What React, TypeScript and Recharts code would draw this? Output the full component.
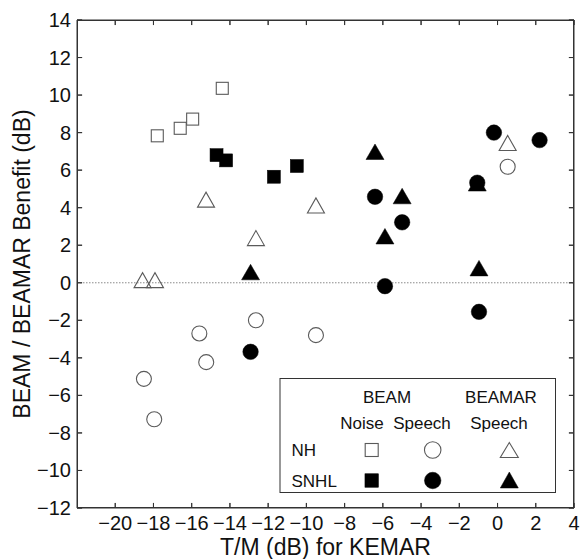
import React from 'react';
import { ScatterChart, Scatter, XAxis, YAxis, ReferenceLine, Customized, Label } from 'recharts';

const xTicks = [-20, -18, -16, -14, -12, -10, -8, -6, -4, -2, 0, 2, 4];
const yTicks = [-12, -10, -8, -6, -4, -2, 0, 2, 4, 6, 8, 10, 12, 14];
const X_MIN = -22, X_MAX = 4, Y_MIN = -12, Y_MAX = 14;

// BEAM Noise
const nhNoiseX = [-17.8, -16.6, -15.95, -14.4];
const nhNoiseY = [7.83, 8.23, 8.72, 10.36];
const snhlNoiseX = [-14.7, -14.2, -11.7, -10.5];
const snhlNoiseY = [6.8, 6.52, 5.65, 6.22];

// BEAM Speech
const nhSpeechX = [-18.5, -17.96, -15.6, -15.24, -12.64, -9.5, 0.53];
const nhSpeechY = [-5.12, -7.27, -2.7, -4.23, -2.0, -2.79, 6.18];
const snhlSpeechX = [-12.92, -6.41, -5.89, -4.99, -1.06, -0.97, -0.19, 2.2];
const snhlSpeechY = [-3.68, 4.58, -0.18, 3.22, 5.33, -1.55, 8.0, 7.6];

// BEAMAR Speech
const nhBeamarX = [-18.57, -17.92, -15.25, -12.64, -9.5, 0.53];
const nhBeamarY = [0.14, 0.14, 4.43, 2.38, 4.12, 7.45];
const snhlBeamarX = [-12.92, -6.41, -5.89, -4.99, -1.06, -0.97];
const snhlBeamarY = [0.57, 6.98, 2.48, 4.62, 5.3, 0.78];

const FONT = '"Liberation Sans", Arial, Helvetica, sans-serif';
const AXIS = '#333';
const OPEN = '#5a5a5a';
const TX = 0.27;
const TY = 0.27;

// chart box
const W = 580, H = 559;
const M = { top: 20, right: 6, bottom: 0, left: 0 };
const X_AXIS_H = 51, Y_AXIS_W = 77;
const PX = M.left + Y_AXIS_W, PY = M.top;
const PW = W - PX - M.right, PH = H - PY - X_AXIS_H - M.bottom;

const zip = (xs: number[], ys: number[]) => xs.map((x, i) => ({ x, y: ys[i] }));
const fmt = (v: number) => String(v).replace('-', '\u2212');

const squareEl = (cx: number, cy: number, s: number, filled: boolean) => (
  <rect x={cx - s / 2} y={cy - s / 2} width={s} height={s}
    fill={filled ? '#000' : 'none'} stroke={filled ? '#000' : OPEN} strokeWidth={filled ? 0.5 : 1.1} />
);
const circleEl = (cx: number, cy: number, d: number, filled: boolean) => (
  <circle cx={cx} cy={cy} r={d / 2}
    fill={filled ? '#000' : 'none'} stroke={filled ? '#000' : OPEN} strokeWidth={filled ? 0.5 : 1.1} />
);
const triEl = (cx: number, cy: number, w: number, h: number, filled: boolean) => (
  <polygon points={`${cx - w / 2},${cy + h / 2} ${cx + w / 2},${cy + h / 2} ${cx},${cy - h / 2}`}
    fill={filled ? '#000' : 'none'} stroke={filled ? '#000' : OPEN} strokeWidth={filled ? 0.5 : 1.1} strokeLinejoin="miter" />
);

const OpenSquare = (p: any) => squareEl(p.cx, p.cy, 12, false);
const FillSquare = (p: any) => squareEl(p.cx, p.cy, 13, true);
const OpenCircle = (p: any) => circleEl(p.cx, p.cy, 15, false);
const FillCircle = (p: any) => circleEl(p.cx, p.cy, 15.5, true);
const OpenTri = (p: any) => triEl(p.cx, p.cy, 17, 15, false);
const FillTri = (p: any) => triEl(p.cx, p.cy, 18, 15.5, true);

const XTick = (p: any) => (
  <text x={p.x} y={PY + PH + 21.5} textAnchor="middle" fontFamily={FONT} fontSize={20} fill="#111">
    {fmt(p.payload.value)}
  </text>
);
const YTick = (p: any) => (
  <text x={PX - 6} y={p.y + 7} textAnchor="end" fontFamily={FONT} fontSize={20} fill="#111">
    {fmt(p.payload.value)}
  </text>
);

const LegendBox = () => (
  <g fontFamily={FONT} fontSize={17} fill="#111">
    <rect x={280} y={378.5} width={275.5} height={114} fill="#fff" stroke={AXIS} strokeWidth={1} />
    <text x={387} y={403} textAnchor="middle">BEAM</text>
    <text x={501} y={403} textAnchor="middle">BEAMAR</text>
    <text x={362} y={428.5} textAnchor="middle">Noise</text>
    <text x={422} y={428.5} textAnchor="middle">Speech</text>
    <text x={499} y={428.5} textAnchor="middle">Speech</text>
    <text x={291.5} y={456}>NH</text>
    <text x={291.5} y={487}>SNHL</text>
    {squareEl(371.7, 450, 13, false)}
    {circleEl(432.7, 450, 16.5, false)}
    {triEl(509.3, 450, 18, 15, false)}
    {squareEl(371.7, 480.5, 13.5, true)}
    {circleEl(432.7, 480.5, 16.5, true)}
    {triEl(509.3, 480, 18, 16, true)}
  </g>
);

// Frame overlay: box with inward ticks (axis decoration only)
const FrameOverlay = () => {
  const sx = (v: number) => PX + ((v - X_MIN) / (X_MAX - X_MIN)) * PW;
  const sy = (v: number) => PY + ((Y_MAX - v) / (Y_MAX - Y_MIN)) * PH;
  return (
    <svg width={W} height={H} style={{ position: 'absolute', left: 0, top: 0, pointerEvents: 'none' }}>
      <rect x={PX + 0.5} y={PY + 0.5} width={PW - 1} height={PH - 1} fill="none" stroke={AXIS} strokeWidth={1} />
      {xTicks.map((t) => (
        <g key={`x${t}`}>
          <line x1={sx(t)} x2={sx(t)} y1={PY + PH} y2={PY + PH - 5} stroke={AXIS} strokeWidth={1} />
          <line x1={sx(t)} x2={sx(t)} y1={PY} y2={PY + 5} stroke={AXIS} strokeWidth={1} />
        </g>
      ))}
      {yTicks.map((t) => (
        <g key={`y${t}`}>
          <line x1={PX} x2={PX + 5} y1={sy(t)} y2={sy(t)} stroke={AXIS} strokeWidth={1} />
          <line x1={PX + PW} x2={PX + PW - 5} y1={sy(t)} y2={sy(t)} stroke={AXIS} strokeWidth={1} />
        </g>
      ))}
    </svg>
  );
};

export default function App() {
  return (
    <div style={{ position: 'absolute', left: 0, top: 0, width: W, height: H, background: '#fff' }}>
      <ScatterChart width={W} height={H} margin={M}>
        <XAxis dataKey="x" type="number" domain={[X_MIN, X_MAX]} ticks={xTicks} allowDataOverflow
          height={X_AXIS_H} tick={XTick} tickLine={false} stroke={AXIS} interval={0}>
          <Label content={() => (
            <text x={PX + PW / 2} y={555} textAnchor="middle" fontFamily={FONT} fontSize={23} fill="#111">T/M (dB) for KEMAR</text>
          )} />
        </XAxis>
        <YAxis dataKey="y" type="number" domain={[Y_MIN, Y_MAX]} ticks={yTicks} allowDataOverflow
          width={Y_AXIS_W} tick={YTick} tickLine={false} stroke={AXIS} interval={0}>
          <Label content={() => (
            <text transform={`translate(30,${PY + PH / 2}) rotate(-90)`} x={0} y={0} textAnchor="middle"
              fontFamily={FONT} fontSize={23} fill="#111">BEAM / BEAMAR Benefit (dB)</text>
          )} />
        </YAxis>
        <ReferenceLine y={Y_MAX} stroke={AXIS} strokeWidth={1} />
        <ReferenceLine x={X_MAX} stroke={AXIS} strokeWidth={1} />
        {xTicks.map((t) => (
          <ReferenceLine key={`xb${t}`} segment={[{ x: t, y: Y_MIN }, { x: t, y: Y_MIN + TY }]} stroke={AXIS} strokeWidth={1} />
        ))}
        {xTicks.map((t) => (
          <ReferenceLine key={`xt${t}`} segment={[{ x: t, y: Y_MAX }, { x: t, y: Y_MAX - TY }]} stroke={AXIS} strokeWidth={1} />
        ))}
        {yTicks.map((t) => (
          <ReferenceLine key={`yl${t}`} segment={[{ x: X_MIN, y: t }, { x: X_MIN + TX, y: t }]} stroke={AXIS} strokeWidth={1} />
        ))}
        {yTicks.map((t) => (
          <ReferenceLine key={`yr${t}`} segment={[{ x: X_MAX, y: t }, { x: X_MAX - TX, y: t }]} stroke={AXIS} strokeWidth={1} />
        ))}
        <ReferenceLine y={0} stroke="#8a8a8a" strokeDasharray="1.5 1.5" strokeWidth={1} />
        <Scatter name="NH BEAM Noise" data={zip(nhNoiseX, nhNoiseY)} shape={OpenSquare} isAnimationActive={false} />
        <Scatter name="SNHL BEAM Noise" data={zip(snhlNoiseX, snhlNoiseY)} shape={FillSquare} isAnimationActive={false} />
        <Scatter name="NH BEAMAR Speech" data={zip(nhBeamarX, nhBeamarY)} shape={OpenTri} isAnimationActive={false} />
        <Scatter name="SNHL BEAMAR Speech" data={zip(snhlBeamarX, snhlBeamarY)} shape={FillTri} isAnimationActive={false} />
        <Scatter name="NH BEAM Speech" data={zip(nhSpeechX, nhSpeechY)} shape={OpenCircle} isAnimationActive={false} />
        <Scatter name="SNHL BEAM Speech" data={zip(snhlSpeechX, snhlSpeechY)} shape={FillCircle} isAnimationActive={false} />
        <Customized component={LegendBox} />
      </ScatterChart>
      <FrameOverlay />
    </div>
  );
}
